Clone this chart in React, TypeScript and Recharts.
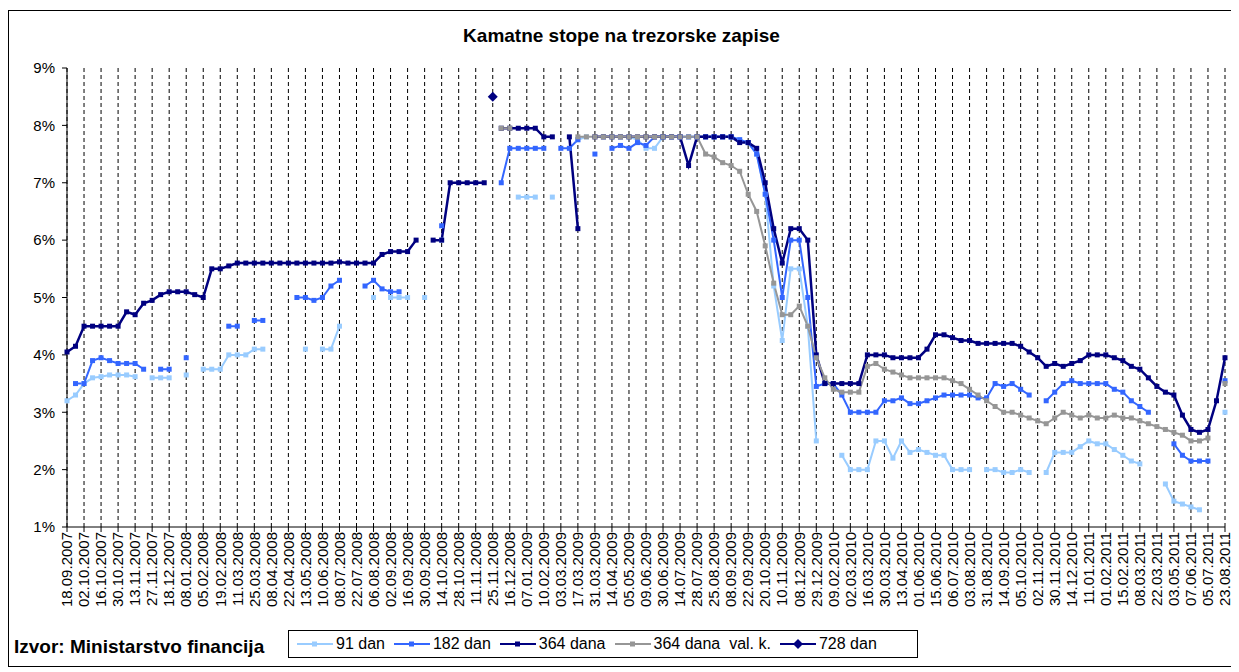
import { CartesianGrid, Line, LineChart, XAxis, YAxis } from 'recharts';

const dates = [
  '18.09.2007', '25.09.2007', '02.10.2007', '09.10.2007', '16.10.2007', '23.10.2007', '30.10.2007', '06.11.2007', '13.11.2007', '20.11.2007',
  '27.11.2007', '11.12.2007', '18.12.2007', '27.12.2007', '08.01.2008', '22.01.2008', '05.02.2008', '12.02.2008', '19.02.2008', '04.03.2008',
  '11.03.2008', '18.03.2008', '25.03.2008', '01.04.2008', '08.04.2008', '15.04.2008', '22.04.2008', '06.05.2008', '13.05.2008', '27.05.2008',
  '10.06.2008', '24.06.2008', '08.07.2008', '15.07.2008', '22.07.2008', '29.07.2008', '06.08.2008', '19.08.2008', '02.09.2008', '09.09.2008',
  '16.09.2008', '23.09.2008', '30.09.2008', '07.10.2008', '14.10.2008', '21.10.2008', '28.10.2008', '04.11.2008', '11.11.2008', '18.11.2008',
  '25.11.2008', '09.12.2008', '16.12.2008', '23.12.2008', '07.01.2009', '27.01.2009', '10.02.2009', '24.02.2009', '03.03.2009', '10.03.2009',
  '17.03.2009', '24.03.2009', '31.03.2009', '07.04.2009', '14.04.2009', '28.04.2009', '05.05.2009', '26.05.2009', '09.06.2009', '16.06.2009',
  '30.06.2009', '07.07.2009', '14.07.2009', '21.07.2009', '28.07.2009', '11.08.2009', '25.08.2009', '01.09.2009', '08.09.2009', '15.09.2009',
  '22.09.2009', '06.10.2009', '20.10.2009', '27.10.2009', '10.11.2009', '24.11.2009', '08.12.2009', '15.12.2009', '29.12.2009', '19.01.2010',
  '09.02.2010', '16.02.2010', '02.03.2010', '09.03.2010', '16.03.2010', '23.03.2010', '30.03.2010', '06.04.2010', '13.04.2010', '04.05.2010',
  '01.06.2010', '08.06.2010', '15.06.2010', '22.06.2010', '06.07.2010', '20.07.2010', '03.08.2010', '17.08.2010', '31.08.2010', '07.09.2010',
  '14.09.2010', '21.09.2010', '05.10.2010', '19.10.2010', '02.11.2010', '16.11.2010', '30.11.2010', '07.12.2010', '14.12.2010', '28.12.2010',
  '11.01.2011', '18.01.2011', '01.02.2011', '08.02.2011', '15.02.2011', '22.02.2011', '08.03.2011', '15.03.2011', '22.03.2011', '05.04.2011',
  '03.05.2011', '17.05.2011', '07.06.2011', '21.06.2011', '05.07.2011', '26.07.2011', '23.08.2011',
];

const tickLabels = [
  '18.09.2007', '02.10.2007', '16.10.2007', '30.10.2007', '13.11.2007', '27.11.2007', '18.12.2007', '08.01.2008', '05.02.2008', '19.02.2008',
  '11.03.2008', '25.03.2008', '08.04.2008', '22.04.2008', '13.05.2008', '10.06.2008', '08.07.2008', '22.07.2008', '06.08.2008', '02.09.2008',
  '16.09.2008', '30.09.2008', '14.10.2008', '28.10.2008', '11.11.2008', '25.11.2008', '16.12.2008', '07.01.2009', '10.02.2009', '03.03.2009',
  '17.03.2009', '31.03.2009', '14.04.2009', '05.05.2009', '09.06.2009', '30.06.2009', '14.07.2009', '28.07.2009', '25.08.2009', '08.09.2009',
  '22.09.2009', '20.10.2009', '10.11.2009', '08.12.2009', '29.12.2009', '09.02.2010', '02.03.2010', '16.03.2010', '30.03.2010', '13.04.2010',
  '01.06.2010', '15.06.2010', '06.07.2010', '03.08.2010', '31.08.2010', '14.09.2010', '05.10.2010', '02.11.2010', '30.11.2010', '14.12.2010',
  '11.01.2011', '01.02.2011', '15.02.2011', '08.03.2011', '22.03.2011', '03.05.2011', '07.06.2011', '05.07.2011', '23.08.2011',
];

const yTicks = [1, 2, 3, 4, 5, 6, 7, 8, 9];

// 91 dan
const s91 = [
  3.2, 3.3, 3.5, 3.6, 3.62, 3.65, 3.65, 3.65, 3.62, null,
  3.6, 3.6, 3.6, null, 3.65, null, 3.75, 3.75, 3.75, 4.0,
  4.0, 4.0, 4.1, 4.1, null, null, null, null, 4.1, null,
  4.1, 4.1, 4.5, null, null, null, 5.0, null, 5.0, 5.0,
  5.0, null, 5.0, null, 6.0, null, null, null, null, null,
  null, null, null, 6.75, 6.75, 6.75, null, 6.75, null, null,
  7.75, 7.8, null, 7.8, 7.8, 7.8, 7.8, 7.75, 7.6, 7.6,
  7.8, 7.8, 7.8, 7.8, 7.8, 7.8, 7.8, 7.8, 7.8, 7.75,
  7.7, 7.5, 6.8, 5.2, 4.25, 5.5, 5.5, 4.5, 2.5, null,
  null, 2.25, 2.0, 2.0, 2.0, 2.5, 2.5, 2.2, 2.5, 2.3,
  2.35, 2.3, 2.25, 2.25, 2.0, 2.0, 2.0, null, 2.0, 2.0,
  1.95, 1.95, 2.0, 1.95, null, 1.95, 2.3, 2.3, 2.3, 2.4,
  2.5, 2.45, 2.45, 2.35, 2.25, 2.15, 2.1, null, null, 1.75,
  1.45, 1.4, 1.35, 1.3, null, null, 3.0,
];

// 182 dan
const s182 = [
  null, 3.5, 3.5, 3.9, 3.95, 3.9, 3.85, 3.85, 3.85, 3.75,
  null, 3.75, 3.75, null, 3.95, null, null, null, null, 4.5,
  4.5, null, 4.6, 4.6, null, null, null, 5.0, 5.0, 4.95,
  5.0, 5.2, 5.3, null, null, 5.2, 5.3, 5.15, 5.1, 5.1,
  null, null, null, null, 6.25, null, null, null, null, null,
  null, 7.0, 7.6, 7.6, 7.6, 7.6, 7.6, null, 7.6, 7.6,
  7.75, null, 7.5, null, 7.6, 7.65, 7.6, 7.7, 7.65, 7.8,
  7.8, 7.8, 7.8, 7.8, 7.8, 7.8, 7.8, 7.8, 7.8, 7.75,
  7.7, 7.5, 6.8, 6.0, 5.0, 6.0, 6.0, 5.0, 3.45, 3.5,
  3.5, 3.3, 3.0, 3.0, 3.0, 3.0, 3.2, 3.2, 3.25, 3.15,
  3.15, 3.2, 3.25, 3.3, 3.3, 3.3, 3.3, 3.25, 3.25, 3.5,
  3.45, 3.5, 3.4, 3.3, null, 3.2, 3.35, 3.5, 3.55, 3.5,
  3.5, 3.5, 3.5, 3.4, 3.35, 3.2, 3.1, 3.0, null, null,
  2.45, 2.25, 2.15, 2.15, 2.15, null, 3.55,
];

// 364 dana
const s364 = [
  4.05, 4.15, 4.5, 4.5, 4.5, 4.5, 4.5, 4.75, 4.7, 4.9,
  4.95, 5.05, 5.1, 5.1, 5.1, 5.05, 5.0, 5.5, 5.5, 5.55,
  5.6, 5.6, 5.6, 5.6, 5.6, 5.6, 5.6, 5.6, 5.6, 5.6,
  5.6, 5.6, 5.62, 5.6, 5.6, 5.6, 5.6, 5.75, 5.8, 5.8,
  5.8, 6.0, null, 6.0, 6.0, 7.0, 7.0, 7.0, 7.0, 7.0,
  null, 7.95, 7.95, 7.95, 7.95, 7.95, 7.8, 7.8, null, 7.8,
  6.2, null, 7.8, 7.8, 7.8, 7.8, 7.8, 7.8, 7.8, 7.8,
  7.8, 7.8, 7.8, 7.3, 7.8, 7.8, 7.8, 7.8, 7.8, 7.7,
  7.7, 7.6, 7.0, 6.2, 5.6, 6.2, 6.2, 6.0, 4.0, 3.5,
  3.5, 3.5, 3.5, 3.5, 4.0, 4.0, 4.0, 3.95, 3.95, 3.95,
  3.95, 4.1, 4.35, 4.35, 4.3, 4.25, 4.25, 4.2, 4.2, 4.2,
  4.2, 4.2, 4.15, 4.05, 3.95, 3.8, 3.85, 3.8, 3.85, 3.9,
  4.0, 4.0, 4.0, 3.95, 3.9, 3.8, 3.75, 3.6, 3.45, 3.35,
  3.3, 2.95, 2.7, 2.65, 2.7, 3.2, 3.95,
];

// 364 dana val. k.
const sVal = [
  null, null, null, null, null, null, null, null, null, null,
  null, null, null, null, null, null, null, null, null, null,
  null, null, null, null, null, null, null, null, null, null,
  null, null, null, null, null, null, null, null, null, null,
  null, null, null, null, null, null, null, null, null, null,
  null, 7.95, 7.95, null, null, null, null, null, null, null,
  7.8, 7.8, 7.8, 7.8, 7.8, 7.8, 7.8, 7.8, 7.8, 7.8,
  7.8, 7.8, 7.8, 7.8, 7.8, 7.5, 7.45, 7.35, 7.3, 7.2,
  6.8, 6.5, 5.9, 5.25, 4.7, 4.7, 4.85, 4.5, 3.95, 3.6,
  3.4, 3.35, 3.35, 3.35, 3.8, 3.85, 3.75, 3.7, 3.65, 3.6,
  3.6, 3.6, 3.6, 3.6, 3.55, 3.5, 3.4, 3.3, 3.2, 3.1,
  3.0, 3.0, 2.95, 2.9, 2.85, 2.8, 2.9, 3.0, 2.95, 2.9,
  2.95, 2.9, 2.9, 2.95, 2.9, 2.9, 2.85, 2.8, 2.75, 2.7,
  2.65, 2.6, 2.5, 2.5, 2.55, null, 3.5,
];

// 728 dan (one auction)
const s728Date = '25.11.2008';
const s728Value = 8.5;

const data = dates.map((date, i) => ({
  date,
  d91: s91[i],
  d182: s182[i],
  d364: s364[i],
  val: sVal[i],
  d728: date === s728Date ? s728Value : null,
}));

const C91 = '#99CCFF';
const C182 = '#3366FF';
const C364 = '#000080';
const CVAL = '#969696';
const FONT = '"Liberation Sans", Arial, sans-serif';

const square = (color: string, size: number) => (props: any) => {
  const { cx, cy, index } = props;
  if (cx == null || cy == null || Number.isNaN(cy) || props.value == null) return <g key={index} />;
  return <rect key={index} x={cx - size / 2} y={cy - size / 2} width={size} height={size} fill={color} />;
};

const diamond = (props: any) => {
  const { cx, cy, index } = props;
  if (cx == null || cy == null || Number.isNaN(cy) || props.value == null) return <g key={index} />;
  const r = 5;
  return (
    <path
      key={index}
      d={`M${cx},${cy - r}L${cx + r},${cy}L${cx},${cy + r}L${cx - r},${cy}Z`}
      fill={C364}
    />
  );
};

const DateTick = ({ x, y, payload }: any) => (
  <text
    x={x}
    y={y}
    transform={`rotate(-90, ${x}, ${y})`}
    textAnchor='end'
    dy='0.35em'
    fontSize={15}
    fontFamily={FONT}
    fill='#000'
  >
    {payload.value}
  </text>
);

const legendItems = [
  { label: '91 dan', color: C91, shape: 'square' },
  { label: '182 dan', color: C182, shape: 'square' },
  { label: '364 dana', color: C364, shape: 'square' },
  { label: '364 dana  val. k.', color: CVAL, shape: 'square' },
  { label: '728 dan', color: C364, shape: 'diamond' },
];

const LegendBox = () => (
  <div
    style={{
      position: 'absolute',
      left: 279,
      top: 619,
      width: 630,
      height: 28,
      border: '1px solid #000',
      display: 'flex',
      alignItems: 'center',
      paddingLeft: 8,
      boxSizing: 'border-box',
      fontSize: 16,
      fontFamily: FONT,
      whiteSpace: 'pre',
    }}
  >
    {legendItems.map((it) => (
      <div key={it.label} style={{ display: 'flex', alignItems: 'center', marginRight: 9 }}>
        <svg width={36} height={12}>
          <line x1={0} y1={6} x2={36} y2={6} stroke={it.color} strokeWidth={2} />
          {it.shape === 'square' ? (
            <rect x={15} y={3.5} width={5} height={5} fill={it.color} />
          ) : (
            <path d='M18,1L23,6L18,11L13,6Z' fill={it.color} />
          )}
        </svg>
        <span style={{ marginLeft: 3 }}>{it.label}</span>
      </div>
    ))}
  </div>
);

export default function App() {
  return (
    <div
      style={{
        position: 'relative',
        width: 1225,
        height: 655,
        marginTop: 2,
        border: '1px solid #000',
        boxShadow: '3px 3px 0 #000',
        background: '#fff',
        fontFamily: FONT,
      }}
    >
      <div
        style={{
          position: 'absolute',
          top: 14,
          left: 0,
          width: '100%',
          textAlign: 'center',
          fontWeight: 'bold',
          fontSize: 19,
        }}
      >
        Kamatne stope na trezorske zapise
      </div>
      <div style={{ position: 'absolute', top: 0, left: 0 }}>
        <LineChart
          width={1224}
          height={653}
          data={data}
          margin={{ top: 57, right: 8, bottom: 47, left: 0 }}
        >
          <CartesianGrid horizontal={false} strokeDasharray='4 3' stroke='#000' />
          <XAxis
            dataKey='date'
            ticks={tickLabels}
            interval={0}
            tick={<DateTick />}
            height={90}
            tickSize={5}
            tickMargin={0}
            stroke='#000'
          />
          <YAxis
            domain={[1, 9]}
            ticks={yTicks}
            width={58}
            tickSize={5}
            tickMargin={7}
            tickFormatter={(v) => `${v}%`}
            tick={{ fontSize: 15, fill: '#000', fontFamily: FONT }}
            stroke='#000'
          />
          <Line
            dataKey='d91'
            stroke={C91}
            strokeWidth={2}
            dot={square(C91, 5)}
            isAnimationActive={false}
          />
          <Line
            dataKey='d182'
            stroke={C182}
            strokeWidth={2}
            dot={square(C182, 5)}
            isAnimationActive={false}
          />
          <Line
            dataKey='d364'
            stroke={C364}
            strokeWidth={2.5}
            dot={square(C364, 5)}
            isAnimationActive={false}
          />
          <Line
            dataKey='val'
            stroke={CVAL}
            strokeWidth={2}
            dot={square(CVAL, 5)}
            isAnimationActive={false}
          />
          <Line
            dataKey='d728'
            stroke={C364}
            strokeWidth={2}
            dot={diamond}
            isAnimationActive={false}
          />
        </LineChart>
      </div>
      <div
        style={{
          position: 'absolute',
          left: 5,
          top: 625,
          fontWeight: 'bold',
          fontSize: 19,
        }}
      >
        Izvor: Ministarstvo financija
      </div>
      <LegendBox />
    </div>
  );
}
